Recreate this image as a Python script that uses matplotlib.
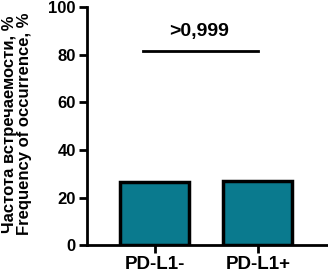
import matplotlib.pyplot as plt

plt.rcParams['font.family'] = ['Liberation Sans', 'DejaVu Sans']
plt.rcParams['font.weight'] = 'bold'

groups = ["PD-L1-", "PD-L1+"]
freq = [26.5, 27.0]
yticks = [0, 20, 40, 60, 80, 100]
p_label = ">0,999"
p_y = 81.5

fig = plt.figure(figsize=(3.28, 2.77), dpi=100)
ax = fig.add_axes([0.265, 0.115, 0.735, 0.86])

x = range(len(groups))
ax.bar(x, freq, width=0.67, color="#0a7a8e", edgecolor="black", linewidth=2.5)

ax.set_ylim(0, 100)
ax.set_xlim(-0.66, 1.68)
ax.set_yticks(yticks)
ax.set_xticks(list(x))
ax.set_xticklabels(groups, fontsize=13.5, fontweight='bold')
ax.tick_params(axis='y', labelsize=12, width=2, length=6, pad=2)
ax.tick_params(axis='x', width=2, length=6, pad=2)
for lab in ax.get_yticklabels():
    lab.set_fontweight('bold')

ax.spines['top'].set_visible(False)
ax.spines['right'].set_visible(False)
ax.spines['left'].set_linewidth(2)
ax.spines['bottom'].set_linewidth(2)

ax.plot([-0.12, 1.0], [p_y, p_y], color="black", lw=2)
ax.text(0.43, p_y + 4.5, p_label, ha="center", va="bottom", fontsize=14, fontweight='bold')

fig.text(0.052, 0.552, "Частота встречаемости, %\nFrequency of occurrence, %",
         rotation=90, ha="center", va="center",
         fontsize=12, fontweight='bold', linespacing=1.0)

fig.savefig("out.png", dpi=100)
